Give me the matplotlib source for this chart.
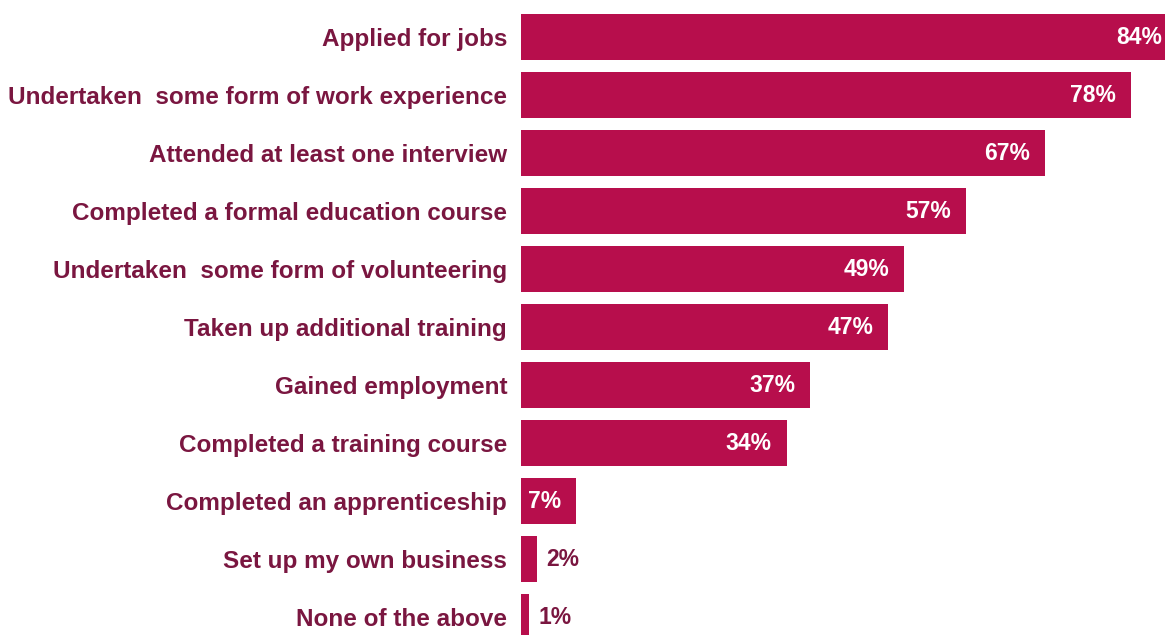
import matplotlib.pyplot as plt

# activities reported, top to bottom, with the share of respondents
activities = [
    "Applied for jobs",
    "Undertaken  some form of work experience",
    "Attended at least one interview",
    "Completed a formal education course",
    "Undertaken  some form of volunteering",
    "Taken up additional training",
    "Gained employment",
    "Completed a training course",
    "Completed an apprenticeship",
    "Set up my own business",
    "None of the above",
]
shares = [84, 78, 67, 57, 49, 47, 37, 34, 7, 2, 1]

bar_color = "#B70E4C"
text_color = "#7A1640"
font = ["Liberation Sans", "DejaVu Sans"]

fig = plt.figure(figsize=(11.65, 6.35), dpi=100)
ax = fig.add_axes([521 / 1165, 0, 644 / 1165, 1])

pos = list(range(len(activities)))
bars = ax.barh(pos, shares, height=0.79, color=bar_color)

ax.set_xlim(0, 82.4)
ax.set_ylim(10.31, -0.638)

ax.set_yticks(pos)
ax.set_yticklabels(activities, fontsize=17.5, fontweight="bold",
                   color=text_color, family=font)
ax.tick_params(axis="y", length=0, pad=10)
ax.set_xticks([])
for s in ax.spines.values():
    s.set_visible(False)

# values inside the bar where it fits, otherwise just past its end
for bar, v in zip(bars, shares):
    y = bar.get_y() + bar.get_height() / 2
    if v >= 5:
        ax.annotate(f"{v}%", (v, y), xytext=(-15, 0), textcoords="offset pixels",
                    ha="right", va="center", color="white", fontsize=16.5,
                    fontweight="bold", family=font, annotation_clip=False)
    else:
        ax.annotate(f"{v}%", (v, y), xytext=(10, 0), textcoords="offset pixels",
                    ha="left", va="center", color=text_color, fontsize=16.5,
                    fontweight="bold", family=font)

fig.savefig("out.png", dpi=100)
